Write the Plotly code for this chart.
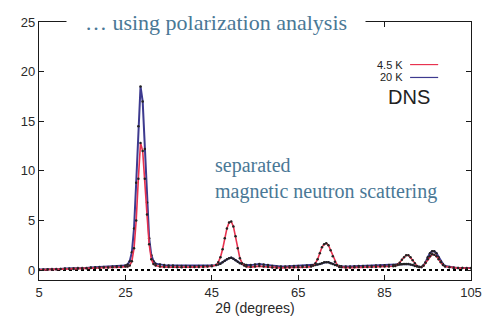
import plotly.graph_objects as go

# 2theta sampling positions (degrees)
two_theta = [
    5, 6, 7, 8, 9, 10, 11, 12, 13, 14, 15, 16, 17, 18, 19, 20, 21, 22, 23, 24, 25,
    25.5, 26, 26.5, 27, 27.5, 28, 28.5, 29, 29.5, 30, 30.5, 31, 31.5, 32,
    33, 34, 35, 36, 37, 38, 39, 40, 41, 42, 43, 44, 45, 46,
    46.5, 47, 47.5, 48, 48.5, 49, 49.5, 50, 50.5, 51, 51.5, 52, 52.5, 53,
    54, 55, 56, 57, 58, 59, 60, 61, 62, 63, 64, 65, 66, 67, 68,
    68.5, 69, 69.5, 70, 70.5, 71, 71.5, 72, 72.5, 73, 73.5, 74, 74.5, 75,
    76, 77, 78, 79, 80, 81, 82, 83, 84, 85, 86, 87,
    87.5, 88, 88.5, 89, 89.5, 90, 90.5, 91, 91.5, 92, 92.5, 93, 93.5, 94,
    94.5, 95, 95.5, 96, 96.5, 97, 97.5, 98, 98.5, 99,
    100, 101, 102, 103, 104, 105,
]

# 20 K intensity
i_20K = [
    0.05, 0.05, 0.08, 0.1, 0.1, 0.12, 0.15, 0.15, 0.18, 0.2, 0.22, 0.2, 0.25, 0.28, 0.3, 0.3, 0.32, 0.35, 0.38, 0.4, 0.45,
    0.55, 0.9, 1.8, 4.2, 8.8, 14.5, 18.5, 17.0, 12.2, 6.8, 3.2, 1.5, 0.9, 0.65,
    0.55, 0.5, 0.45, 0.45, 0.4, 0.4, 0.4, 0.38, 0.38, 0.4, 0.4, 0.42, 0.45, 0.5,
    0.55, 0.65, 0.8, 0.95, 1.1, 1.2, 1.25, 1.15, 1.0, 0.85, 0.7, 0.6, 0.55, 0.5,
    0.5, 0.55, 0.6, 0.55, 0.5, 0.4, 0.35, 0.35, 0.35, 0.38, 0.4, 0.4, 0.42, 0.45, 0.45,
    0.48, 0.5, 0.55, 0.62, 0.7, 0.78, 0.8, 0.78, 0.7, 0.6, 0.5, 0.45, 0.4, 0.38,
    0.35, 0.35, 0.38, 0.4, 0.4, 0.42, 0.42, 0.45, 0.45, 0.48, 0.5, 0.5,
    0.5, 0.52, 0.55, 0.58, 0.6, 0.62, 0.6, 0.55, 0.5, 0.42, 0.35, 0.3, 0.3, 0.45,
    0.8, 1.3, 1.7, 1.9, 1.9, 1.7, 1.3, 0.9, 0.6, 0.4,
    0.3, 0.25, 0.22, 0.2, 0.2, 0.2,
]

# 4.5 K intensity
i_4K = [
    0.02, 0.03, 0.05, 0.05, 0.08, 0.1, 0.1, 0.12, 0.12, 0.15, 0.15, 0.18, 0.2, 0.2, 0.22, 0.25, 0.25, 0.28, 0.3, 0.3, 0.35,
    0.35, 0.45, 0.9, 2.2, 5.0, 9.2, 12.8, 12.0, 9.2, 5.6, 2.6, 1.1, 0.6, 0.45,
    0.35, 0.3, 0.3, 0.3, 0.28, 0.28, 0.3, 0.3, 0.3, 0.3, 0.32, 0.35, 0.38, 0.5,
    0.8, 1.3, 2.1, 3.2, 4.2, 4.8, 4.9, 4.4, 3.4, 2.2, 1.2, 0.7, 0.45, 0.35,
    0.3, 0.35, 0.4, 0.35, 0.3, 0.25, 0.22, 0.22, 0.25, 0.25, 0.28, 0.28, 0.3, 0.3, 0.35,
    0.45, 0.7, 1.1, 1.7, 2.3, 2.6, 2.7, 2.5, 2.0, 1.4, 0.85, 0.5, 0.32, 0.28,
    0.25, 0.25, 0.28, 0.3, 0.3, 0.3, 0.32, 0.32, 0.35, 0.35, 0.35, 0.38,
    0.42, 0.55, 0.75, 1.05, 1.3, 1.5, 1.5, 1.3, 1.0, 0.7, 0.42, 0.3, 0.3, 0.45,
    0.75, 1.1, 1.4, 1.6, 1.55, 1.4, 1.1, 0.8, 0.5, 0.35,
    0.28, 0.22, 0.2, 0.2, 0.18, 0.18,
]

x_ticks = [5, 25, 45, 65, 85, 105]
y_ticks = [0, 5, 10, 15, 20, 25]

RED = "#e8324f"
BLUE = "#3d3a8f"
TXT = "#4a7896"
AX = "#1a1a1a"

fig = go.Figure()

# zero line (dotted)
fig.add_trace(go.Scatter(x=[5, 105], y=[0, 0], mode="lines",
                         line=dict(color="black", width=2, dash="dot"),
                         showlegend=False, hoverinfo="skip"))

fig.add_trace(go.Scatter(x=two_theta, y=i_20K, mode="lines+markers", name="20 K",
                         line=dict(color=BLUE, width=2),
                         marker=dict(color="#222222", size=2.5),
                         showlegend=False))
fig.add_trace(go.Scatter(x=two_theta, y=i_4K, mode="lines+markers", name="4.5 K",
                         line=dict(color=RED, width=1.6),
                         marker=dict(color="#222222", size=2.5),
                         showlegend=False))

fig.update_layout(
    width=482, height=321,
    margin=dict(l=39, r=11, t=22, b=41),
    paper_bgcolor="white", plot_bgcolor="white",
    font=dict(family="Liberation Sans, Arial, sans-serif", size=13, color="#2a2a2a"),
    xaxis=dict(range=[5, 105], tickvals=x_ticks, ticks="inside", ticklen=5, tickcolor=AX,
               showline=True, linecolor=AX, linewidth=1.2, mirror="ticks", automargin=False,
               showgrid=False, zeroline=False,
               title=dict(text="2θ (degrees)", font=dict(size=14, color="#2a2a2a"), standoff=2)),
    yaxis=dict(range=[-1, 25], tickvals=y_ticks, ticks="inside", ticklen=5, tickcolor=AX,
               showline=True, linecolor=AX, linewidth=1.2, mirror="ticks", automargin=False,
               showgrid=False, zeroline=False),
)

# legend samples
fig.add_shape(type="line", xref="paper", yref="paper", x0=0.859, x1=0.924, y0=0.835, y1=0.835,
              line=dict(color=RED, width=1.2))
fig.add_shape(type="line", xref="paper", yref="paper", x0=0.859, x1=0.924, y0=0.785, y1=0.785,
              line=dict(color=BLUE, width=1.2))
fig.add_annotation(xref="paper", yref="paper", x=0.848, y=0.835, text="4.5 K", showarrow=False,
                   xanchor="right", yanchor="middle", font=dict(size=11, color="#222222"))
fig.add_annotation(xref="paper", yref="paper", x=0.848, y=0.785, text="20 K", showarrow=False,
                   xanchor="right", yanchor="middle", font=dict(size=11, color="#222222"))
fig.add_annotation(xref="paper", yref="paper", x=0.857, y=0.71, text="DNS", showarrow=False,
                   xanchor="center", yanchor="middle", font=dict(size=20, color="#222222"))

# title over the frame
fig.add_annotation(xref="paper", yref="paper", x=0.41, y=1.0, text="… using polarization analysis",
                   showarrow=False, xanchor="center", yanchor="middle",
                   width=298, height=26, bgcolor="white", borderpad=0,
                   font=dict(family="Liberation Serif, Times New Roman, serif", size=22, color=TXT))

fig.add_annotation(xref="paper", yref="paper", x=0.403, y=0.393,
                   text="separated<br>magnetic neutron scattering",
                   showarrow=False, xanchor="left", yanchor="middle", align="left",
                   font=dict(family="Liberation Serif, Times New Roman, serif", size=20, color=TXT))

fig.write_html("out.html")
